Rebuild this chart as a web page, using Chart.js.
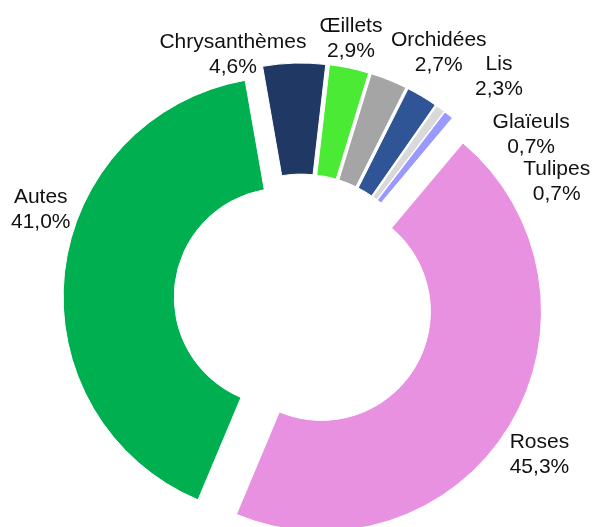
<!DOCTYPE html>
<html>
<head>
<meta charset="utf-8">
<script src="https://cdn.jsdelivr.net/npm/chart.js@4/dist/chart.umd.min.js"></script>
<style>
  html, body { margin: 0; padding: 0; background: #ffffff; }
  canvas { display: block; }
</style>
</head>
<body>
<canvas id="c" width="593" height="527"></canvas>
<script>
// ---- data ----
const categories = ['Roses', 'Autes', 'Chrysanthèmes', 'Œillets', 'Orchidées', 'Lis', 'Glaïeuls', 'Tulipes'];
const shares = [45.3, 41.0, 4.6, 2.9, 2.7, 2.3, 0.7, 0.7];

// ---- styles ----
const sliceColors = ['#E891E1', '#00B050', '#203864', '#4BEB35', '#A5A5A5', '#2F5597', '#D9D9D9', '#9999FF'];
const explodePx = [24, 18, 16, 16, 16, 16, 16, 16];
const labelGap = 40;
const labelNudge = [[-4, 6.5], [16, -59.5], [-60, 30.5], [-6.5, 8.5], [35, 8.5], [56.5, 13], [67, 57], [83, 97]];

function fmtPct(v) { return v.toFixed(1).replace('.', ',') + '%'; }

const explodePlugin = {
  id: 'explode',
  beforeDatasetDraw(chart, args) {
    const ctx = chart.ctx;
    const meta = args.meta;
    meta.data.forEach((arc, i) => {
      const mid = (arc.startAngle + arc.endAngle) / 2;
      const d = explodePx[i] || 0;
      ctx.save();
      ctx.translate(Math.cos(mid) * d, Math.sin(mid) * d);
      arc.draw(ctx, chart.chartArea);
      ctx.restore();
    });
    return false;
  }
};

const labelPlugin = {
  id: 'outLabels',
  afterDraw(chart) {
    const ctx = chart.ctx;
    const meta = chart.getDatasetMeta(0);
    ctx.save();
    ctx.font = '21px "Liberation Sans", Arial, sans-serif';
    ctx.fillStyle = '#111111';
    ctx.textAlign = 'center';
    ctx.textBaseline = 'alphabetic';
    meta.data.forEach((arc, i) => {
      const mid = (arc.startAngle + arc.endAngle) / 2;
      const dist = arc.outerRadius + (explodePx[i] || 0) + labelGap;
      const cx = arc.x + Math.cos(mid) * dist + labelNudge[i][0];
      const cy = arc.y + Math.sin(mid) * dist + labelNudge[i][1];
      ctx.fillText(categories[i], cx, cy - 5.5);
      ctx.fillText(fmtPct(shares[i]), cx, cy + 19.5);
    });
    ctx.restore();
  }
};

new Chart(document.getElementById('c'), {
  type: 'doughnut',
  data: {
    labels: categories,
    datasets: [{
      data: shares,
      backgroundColor: sliceColors,
      borderColor: '#ffffff',
      borderWidth: 1,
      clip: false
    }]
  },
  options: {
    responsive: false,
    devicePixelRatio: 1,
    animation: false,
    rotation: 40,
    radius: 220,
    cutout: '49.5%',
    layout: { padding: { left: 9, right: 0, top: 71, bottom: 0 } },
    plugins: {
      legend: { display: false },
      tooltip: { enabled: false },
      title: { display: false }
    },
    events: []
  },
  plugins: [explodePlugin, labelPlugin]
});
</script>
</body>
</html>
